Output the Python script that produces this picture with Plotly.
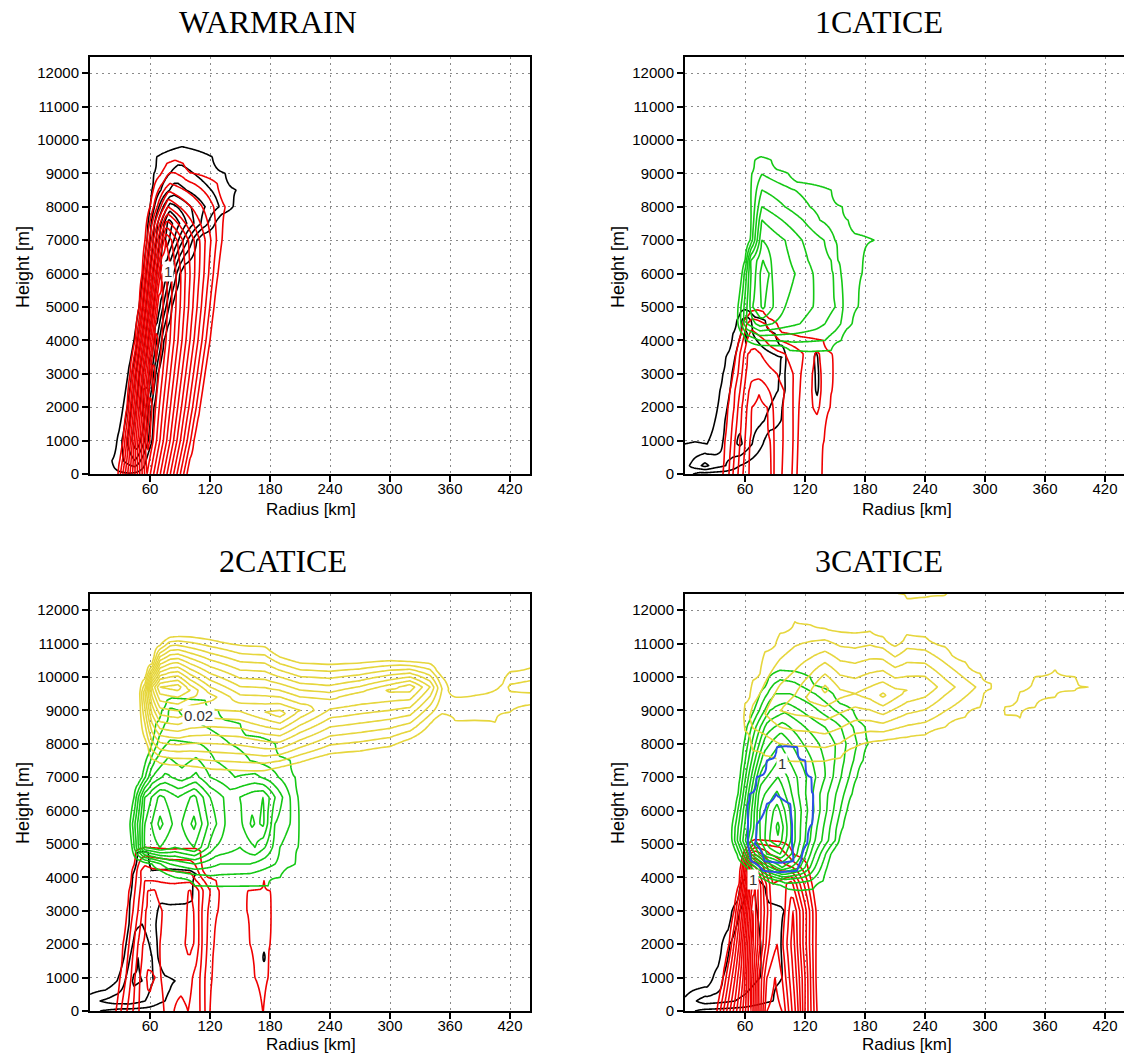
import numpy as np
import plotly.graph_objects as go
from plotly.subplots import make_subplots

# ---------------------------------------------------------------
# Data.
# Fields are given as knots (radius km, value) on rows of fixed height (m),
# or knots (height m, value) on columns of fixed radius (km).
# Values are in multiples of each field's contour interval.
# ---------------------------------------------------------------
PANEL_TITLES = ["WARMRAIN", "1CATICE", "2CATICE", "3CATICE"]
X_TICKS = [60, 120, 180, 240, 300, 360, 420]
Y_TICKS = list(range(0, 12001, 1000))
Y_TICK_TEXT = [str(v) for v in Y_TICKS]
X_TICK_TEXT = [str(v) for v in X_TICKS]

CI_CLOUD = 0.1
CI_RAIN = 0.2
CI_SNOW = 0.02
CI_GRAUPEL = 0.02
CI_ICE = 1.0

# ---------------- WARMRAIN ----------------
WR_CLOUD_Z = [0, 400, 1000, 2000, 3000, 4000, 5000, 6000, 7000, 7500, 8000, 8500, 9000, 9500, 10300]
WR_CLOUD_ROWS = [
    [(15, 0), (22, 0.8), (40, 0.9), (55, 0.5), (60, 0)],
    [(17, 0), (22, 1), (45, 3), (56, 1), (60, 0)],
    [(22, 0), (27, 1), (47, 5), (62, 1), (66, 0)],
    [(29, 0), (33, 1), (52, 5.5), (64, 1), (68, 0)],
    [(34, 0), (38, 1), (57, 6), (68, 1), (72, 0)],
    [(40, 0), (44, 1), (62, 6), (74, 1), (78, 0)],
    [(45, 0), (49, 1), (67, 6), (82, 1), (86, 0)],
    [(49, 0), (53, 1), (72, 6.5), (90, 1), (95, 0)],
    [(53, 0), (57, 1), (77, 7.5), (107, 1), (113, 0)],
    [(55, 0), (58, 1), (79, 7.5), (125, 1), (132, 0)],
    [(57, 0), (60, 1), (80, 5.5), (143, 1), (150, 0)],
    [(58, 0), (62, 1), (84, 3.5), (146, 1), (153, 0)],
    [(60, 0), (64, 1), (88, 2.5), (135, 1), (142, 0)],
    [(62, 0), (67, 1), (92, 1.6), (122, 1), (130, 0)],
    [],
]
WR_RAIN_Z = [0, 1000, 2000, 3000, 4000, 5000, 6000, 7000, 8000, 8700, 9300, 9700]
WR_RAIN_ROWS = [
    [(24, 0), (28, 1), (57, 13), (97, 1), (100, 0)],
    [(30, 0), (33, 1), (58, 14.5), (104, 1), (108, 0)],
    [(34, 0), (37, 1), (60, 14.5), (110, 1), (114, 0)],
    [(37, 0), (40, 1), (63, 14.5), (115, 1), (119, 0)],
    [(42, 0), (45, 1), (66, 14.5), (120, 1), (124, 0)],
    [(46, 0), (49, 1), (69, 14), (124, 1), (128, 0)],
    [(49, 0), (52, 1), (72, 13), (128, 1), (133, 0)],
    [(52, 0), (55, 1), (76, 11), (132, 1), (137, 0)],
    [(55, 0), (60, 1), (78, 6), (135, 1), (142, 0)],
    [(60, 0), (65, 1), (80, 3), (127, 1), (134, 0)],
    [(70, 0), (77, 1), (85, 1.3), (93, 1), (100, 0)],
    [],
]

# ---------------- 1CATICE ----------------
C1_CLOUD_Z = [0, 250, 900, 1600, 2500, 3000, 3500, 4200, 4600, 4900, 5200]
C1_CLOUD_ROWS = [
    [(0, 2), (8, 1), (15, 0.6), (40, 0.5), (60, 0)],
    [(0, 1.6), (10, 2.5), (20, 3.3), (30, 2.5), (45, 1.8), (55, 1), (65, 0.6), (80, 0)],
    [(0, 1), (10, 1.1), (22, 1), (30, 1.5), (45, 2.5), (55, 3.2), (65, 2.2), (78, 1), (85, 0)],
    [(20, 0), (30, 1), (40, 2), (50, 3), (60, 2.5), (75, 2.2), (90, 1.5), (96, 1), (100, 0)],
    [(28, 0), (35, 1), (45, 2), (55, 3), (62, 2.8), (80, 2.5), (93, 2), (100, 1), (104, 0),
     (124, 0), (132, 1.2), (139, 0)],
    [(31, 0), (38, 1), (47, 2), (56, 3), (63, 2.8), (82, 2.4), (95, 2), (100, 1), (104, 0),
     (124, 0), (132, 1.3), (139, 0)],
    [(36, 0), (41, 1), (50, 2), (57, 3), (64, 2.5), (85, 2.2), (97, 2), (101, 1), (106, 0),
     (124, 0), (131, 1.3), (138, 0)],
    [(44, 0), (48, 1), (56, 2), (61, 3.2), (68, 2), (80, 1.5), (90, 1), (95, 0)],
    [(48, 0), (52, 1), (58, 2.2), (63, 2.4), (70, 1.5), (80, 1), (85, 0)],
    [(52, 0), (56, 0.9), (60, 1.1), (64, 0.9), (70, 0)],
    [],
]
C1_RAIN_Z = [0, 1000, 2000, 2500, 3000, 3600, 4000, 4500, 4900, 5200]
C1_RAIN_ROWS = [
    [(34, 0), (38, 1), (44, 2), (48, 3), (53, 4), (58, 5), (64, 6), (74, 6.4), (86, 6), (89, 5),
     (97, 4), (107, 3), (112, 2), (122, 1.5), (137, 1), (141, 0)],
    [(36, 0), (40, 1), (46, 2), (50, 3), (55, 4), (60, 5), (65, 6), (74, 6.5), (85, 6), (89, 5),
     (98, 4), (108, 3), (113, 2), (124, 1.6), (139, 1), (143, 0)],
    [(39, 0), (43, 1), (49, 2), (53, 3), (57, 4), (62, 5), (67, 6), (74, 6.3), (82, 6), (88, 5),
     (98, 4), (108, 3), (114, 2), (122, 1.7), (132, 2.2), (140, 1.5), (145, 1), (149, 0)],
    [(41, 0), (45, 1), (50, 2), (55, 3), (59, 4), (64, 5), (74, 5.9), (84, 5), (90, 4.5), (99, 4),
     (108, 3), (115, 2), (123, 1.7), (132, 2.4), (140, 1.6), (147, 1), (151, 0)],
    [(44, 0), (48, 1), (53, 2), (57, 3), (61, 4), (66, 4.8), (78, 4.5), (92, 4), (100, 3.5),
     (108, 3), (116, 2), (124, 1.7), (132, 2.4), (140, 1.6), (148, 1), (152, 0)],
    [(47, 0), (51, 1), (55, 2), (59, 3), (63, 4), (70, 4.3), (85, 3.5), (100, 3), (110, 2.5),
     (118, 2), (126, 1.6), (132, 2.2), (140, 1.5), (147, 1), (151, 0)],
    [(50, 0), (54, 1), (58, 2), (62, 3), (66, 3.7), (80, 3), (95, 2), (115, 1.3), (138, 1), (143, 0)],
    [(55, 0), (58, 1), (62, 2), (67, 2.6), (80, 2), (92, 1), (97, 0)],
    [(62, 0), (66, 0.9), (72, 1.05), (78, 0.9), (84, 0)],
    [],
]
C1_SNOW_Z = [3500, 3700, 4000, 4500, 5000, 6000, 6400, 7000, 7600, 8000, 8500, 9000, 9400, 9700]
C1_SNOW_ROWS = [
    [],
    [(95, 0), (105, 1), (125, 1.2), (146, 1), (152, 0)],
    [(58, 0), (62, 1), (75, 2), (110, 2.2), (140, 2), (156, 1), (162, 0)],
    [(50, 0), (53, 1), (62, 4), (75, 5.5), (100, 4.5), (130, 3.5), (150, 2.5), (167, 1), (173, 0)],
    [(50, 0), (53, 1), (68, 6), (78, 7.2), (88, 6), (100, 5), (128, 4), (150, 3), (158, 2),
     (173, 1), (180, 0)],
    [(54, 0), (57, 1), (66, 5), (78, 7.6), (84, 7), (87, 6), (110, 5), (128, 4), (148, 3),
     (156, 2), (177, 1), (184, 0)],
    [(56, 0), (60, 1), (66, 5), (78, 7), (86, 6), (105, 5), (123, 4), (146, 3), (153, 2),
     (178, 1), (185, 0)],
    [(61, 0), (65, 1), (77, 6), (100, 5), (117, 4), (139, 3), (150, 2), (189, 1), (194, 0)],
    [(62, 0), (66, 1), (77, 5), (97, 4), (118, 3), (135, 2), (163, 1), (170, 0)],
    [(62, 0), (66, 1), (77, 4), (100, 3), (125, 2), (157, 1), (165, 0)],
    [(62, 0), (66, 1), (77, 3), (110, 2), (146, 1), (153, 0)],
    [(63, 0), (67, 1), (77, 1.95), (103, 1), (112, 0)],
    [(66, 0), (70, 1), (76, 1.5), (86, 1), (92, 0)],
    [],
]

# ---------------- 2CATICE ----------------
C2_CLOUD_Z = [0, 300, 900, 1600, 2600, 3300, 4100, 4750, 5000]
C2_CLOUD_ROWS = [
    [(0, 1.2), (10, 1), (30, 0.6), (60, 0.5), (80, 0)],
    [(0, 1.5), (10, 2), (25, 2.5), (40, 2.6), (55, 2.0), (70, 1.2), (80, 0.8), (88, 0)],
    [(15, 0), (27, 1), (35, 2), (44, 3.2), (52, 3), (60, 2.2), (75, 1.3), (85, 1), (92, 0)],
    [(28, 0), (34, 1), (40, 2), (48, 3), (56, 2.5), (62, 2), (68, 1), (75, 0),
     (168, 0), (174, 1.2), (180, 0)],
    [(33, 0), (39, 1), (45, 1.8), (52, 2), (60, 1.6), (66, 1), (72, 0)],
    [(36, 0), (40, 1), (46, 1.8), (54, 2), (62, 1.5), (70, 1.1), (80, 1.2), (95, 1.15), (102, 1), (106, 0)],
    [(38, 0), (43, 1), (48, 1.6), (55, 1.5), (62, 1.2), (80, 1.3), (100, 1.2), (106, 1), (110, 0)],
    [(44, 0), (48, 1), (52, 1.1), (58, 1), (62, 0)],
    [],
]
C2_RAIN_Z = [0, 1000, 2000, 3000, 3600, 3900, 4200, 4800, 5100]
C2_RAIN_ROWS = [
    [(22, 0), (26, 1), (31, 2), (37, 3), (43, 4), (49, 5), (60, 5.8), (74, 5), (84, 4), (91, 3.6),
     (98, 4), (104, 3.5), (110, 3), (115, 2), (120, 1), (124, 0), (166, 0), (173, 1.05), (180, 0)],
    [(26, 0), (30, 1), (36, 2), (41, 3), (45, 4), (50, 5), (58, 6.2), (65, 6), (71, 5), (85, 4.4),
     (98, 4.6), (110, 3), (115, 2), (122, 1), (126, 0), (158, 0), (165, 1), (172, 1.5), (178, 1), (182, 0)],
    [(30, 0), (33, 1), (39, 2), (44, 3), (48, 4), (53, 5), (62, 5.6), (70, 5), (80, 4.6), (92, 4.8),
     (100, 5.3), (106, 4.8), (112, 3), (117, 2), (124, 1), (128, 0), (153, 0), (160, 1), (170, 1.6),
     (180, 1), (184, 0)],
    [(33, 0), (37, 1), (43, 2), (48, 3), (52, 4), (56, 5), (64, 5.6), (72, 5), (82, 4.6), (95, 4.8),
     (100, 5.3), (106, 4.8), (112, 3), (118, 2), (128, 1), (132, 0), (151, 0), (157, 1), (170, 1.6),
     (181, 1), (185, 0)],
    [(36, 0), (39, 1), (45, 2), (50, 3), (54, 4), (58, 5), (64, 5.1), (70, 4.6), (85, 4.5), (100, 5.05),
     (106, 4.6), (113, 3), (120, 2), (129, 1), (133, 0), (152, 0), (158, 1), (166, 1.1), (173, 1.2),
     (180, 1), (184, 0)],
    [(37, 0), (41, 1), (46, 2), (51, 3), (55, 4), (62, 4), (80, 3.8), (100, 3.8), (110, 2.5), (118, 1.5),
     (126, 1), (130, 0), (170, 0), (174, 1.02), (178, 0)],
    [(38, 0), (42, 1), (47, 2), (51, 3), (55, 3.5), (62, 3.2), (80, 3), (100, 2.8), (108, 2), (113, 1), (118, 0)],
    [(44, 0), (46, 1), (55, 1.5), (80, 1.2), (105, 1.3), (110, 1), (113, 0)],
    [],
]
C2_SNOW_Z = [3550, 3750, 4000, 4400, 4900, 5600, 6400, 7000, 7500, 8000, 8600, 9000, 9300, 9550]
C2_SNOW_ROWS = [
    [],
    [(95, 0), (105, 1), (130, 1.1), (160, 1.05), (178, 1), (185, 0)],
    [(70, 0), (85, 1), (120, 1.8), (160, 1.6), (190, 1), (198, 0)],
    [(50, 0), (62, 1), (80, 3), (105, 4), (130, 3), (160, 3), (185, 2), (205, 1), (210, 0)],
    [(38, 0), (42, 1), (55, 7), (70, 8), (85, 7), (104, 8), (125, 5), (150, 4), (165, 5), (175, 4),
     (190, 2), (208, 1), (214, 0)],
    [(36, 0), (40, 1), (55, 7), (70, 9.3), (87, 7.5), (104, 9.3), (118, 7), (135, 5), (148, 4.5),
     (162, 6.2), (167, 5.8), (173, 6.2), (185, 3), (200, 2), (209, 1), (215, 0)],
    [(40, 0), (44, 1), (55, 6), (70, 8.3), (88, 7), (104, 8.3), (120, 6), (140, 4.5), (162, 5.6),
     (173, 6.0), (185, 4), (200, 2), (208, 1), (214, 0)],
    [(48, 0), (52, 1), (62, 4), (75, 5.3), (92, 4.5), (106, 5.3), (120, 4), (145, 3), (165, 3.3),
     (180, 2.5), (197, 1.5), (205, 1), (210, 0)],
    [(52, 0), (56, 1), (65, 3), (78, 4.2), (92, 3.6), (106, 4.2), (125, 3), (160, 2), (185, 1.5),
     (200, 1), (205, 0)],
    [(58, 0), (62, 1), (70, 2.5), (80, 3.2), (110, 3), (140, 2), (170, 1.5), (185, 1), (190, 0)],
    [(62, 0), (66, 1), (75, 2), (85, 2.2), (110, 2), (150, 1), (156, 0)],
    [(68, 0), (72, 1), (80, 2.2), (110, 1.5), (128, 1), (135, 0)],
    [(74, 0), (77, 1), (82, 1.4), (100, 1.15), (115, 1), (120, 0)],
    [],
]
C2_GRAUPEL_R = [48, 55, 62, 70, 80, 88, 100, 120, 150, 175, 190, 210, 240, 270, 300, 320, 340,
                352, 365, 385, 405, 420, 440]
C2_GRAUPEL_COLS = [
    [],
    [(7900, 0), (8150, 1), (9500, 4), (9950, 1), (10150, 0)],
    [(7400, 0), (7550, 1), (9700, 9), (10400, 1), (10600, 0)],
    [(7250, 0), (7420, 1), (9700, 12), (10950, 1), (11150, 0)],
    [(7200, 0), (7370, 1), (9700, 12.3), (11190, 1), (11400, 0)],
    [(7180, 0), (7360, 1), (9700, 12.5), (11210, 1), (11400, 0)],
    [(7150, 0), (7330, 1), (9600, 11), (11200, 1), (11380, 0)],
    [(7050, 0), (7250, 1), (9400, 9.5), (11120, 1), (11300, 0)],
    [(7000, 0), (7200, 1), (9100, 8.5), (10950, 1), (11100, 0)],
    [(7050, 0), (7200, 1), (8950, 9), (10900, 1), (11050, 0)],
    [(7100, 0), (7300, 1), (8900, 9.5), (10600, 1), (10800, 0)],
    [(7250, 0), (7450, 1), (9000, 8), (10420, 1), (10600, 0)],
    [(7500, 0), (7700, 1), (9200, 6.6), (10380, 1), (10550, 0)],
    [(7600, 0), (7780, 1), (9400, 6.8), (10420, 1), (10600, 0)],
    [(7700, 0), (7920, 1), (9600, 7.2), (10490, 1), (10650, 0)],
    [(7900, 0), (8150, 1), (9700, 7.6), (10460, 1), (10620, 0)],
    [(8200, 0), (8600, 1), (9700, 5), (10400, 1), (10600, 0)],
    [(8700, 0), (8900, 1), (9650, 2), (10000, 1), (10200, 0)],
    [(8500, 0), (8700, 1), (9050, 1.5), (9400, 1), (9600, 0)],
    [(8500, 0), (8700, 1), (9050, 1.5), (9450, 1), (9650, 0)],
    [(8400, 0), (8650, 1), (9300, 1.7), (9600, 1), (9800, 0)],
    [(8800, 0), (8950, 1), (9700, 2.2), (10150, 1), (10350, 0)],
    [(8950, 0), (9170, 1), (9700, 2.5), (10270, 1), (10450, 0)],
]

# ---------------- 3CATICE ----------------
C3_CLOUD_Z = [0, 300, 1000, 2000, 3000, 3700, 4300]
C3_CLOUD_ROWS = [
    [(0, 1.2), (10, 1), (20, 0.7), (60, 0.5), (90, 0)],
    [(0, 1.2), (8, 1.8), (20, 2.5), (40, 2.2), (60, 1.8), (80, 1.2), (88, 1), (92, 0)],
    [(22, 0), (28, 1), (38, 2), (48, 2.8), (60, 2.5), (75, 2), (92, 1.5), (97, 1), (100, 0)],
    [(33, 0), (37, 1), (45, 2), (55, 2.8), (65, 2.5), (80, 1.8), (92, 1.2), (96, 1), (100, 0)],
    [(43, 0), (47, 1), (55, 2), (62, 2.6), (72, 2), (85, 1.5), (96, 1.2), (99, 1), (103, 0)],
    [(52, 0), (55, 1), (62, 2), (68, 2.2), (74, 1.5), (80, 1), (84, 0)],
    [],
]
C3_RAIN_Z = [0, 1000, 2000, 3000, 3800, 4400, 4900, 5250]
C3_RAIN_ROWS = [
    [(28, 0), (32, 1), (45, 5), (55, 8), (66, 12), (74, 8), (82, 4), (90, 3.5), (97, 4), (112, 8.5),
     (120, 5), (132, 1), (136, 0)],
    [(34, 0), (38, 1), (50, 5), (58, 8), (66, 12.5), (74, 8), (82, 5), (90, 4), (97, 5), (110, 8.5),
     (120, 5), (131, 1), (135, 0)],
    [(40, 0), (44, 1), (54, 5), (61, 9), (67, 12.5), (75, 9), (84, 6), (92, 5), (98, 6), (108, 8.5),
     (118, 5), (131, 1), (135, 0)],
    [(45, 0), (49, 1), (57, 5), (63, 9), (68, 12), (76, 9), (86, 6), (94, 5), (100, 6), (108, 8),
     (118, 5), (131, 1), (135, 0)],
    [(50, 0), (54, 1), (60, 5), (65, 9), (70, 11), (78, 8), (88, 5), (97, 5.5), (106, 6.5), (115, 4),
     (127, 1), (131, 0)],
    [(52, 0), (56, 1), (62, 5), (67, 8), (73, 7), (85, 4), (100, 3), (112, 2), (122, 1), (126, 0)],
    [(58, 0), (62, 1), (70, 3), (80, 2.5), (95, 2), (105, 1), (110, 0)],
    [],
]
C3_SNOW_Z = [3400, 3650, 3900, 4300, 4700, 5100, 5500, 6000, 6500, 7000, 7500, 8000, 8500, 9000,
             9500, 10000, 10450]
C3_SNOW_ROWS = [
    [],
    [(95, 0), (103, 1), (115, 1.2), (128, 1), (135, 0)],
    [(75, 0), (82, 1), (100, 2.5), (125, 2), (138, 1), (143, 0)],
    [(56, 0), (62, 1), (80, 5), (97, 8), (115, 6), (130, 3), (142, 1), (147, 0)],
    [(48, 0), (52, 1), (66, 6), (82, 10), (95, 11), (112, 8), (130, 4), (146, 1), (151, 0)],
    [(44, 0), (47, 1), (66, 8), (85, 12), (93, 12.8), (110, 9), (130, 5), (150, 2), (154, 1), (158, 0)],
    [(43, 0), (47, 1), (75, 10), (93, 13.3), (110, 9), (132, 5), (158, 1), (163, 0)],
    [(45, 0), (50, 1), (75, 10), (92, 12.5), (110, 9), (135, 5), (162, 1), (167, 0)],
    [(49, 0), (53, 1), (75, 9.5), (92, 11.2), (110, 8.5), (135, 5), (167, 1), (172, 0)],
    [(51, 0), (55, 1), (76, 8.5), (93, 10), (112, 8), (140, 5), (172, 1), (177, 0)],
    [(53, 0), (57, 1), (78, 7.5), (93, 9), (115, 7), (145, 4.5), (178, 1), (183, 0)],
    [(55, 0), (59, 1), (80, 6.5), (95, 8), (118, 6), (150, 4), (183, 1), (188, 0)],
    [(58, 0), (62, 1), (82, 5.5), (97, 6.5), (120, 5), (150, 3.5), (180, 1), (186, 0)],
    [(64, 0), (69, 1), (85, 4), (100, 4.8), (125, 3.5), (150, 2), (168, 1), (174, 0)],
    [(70, 0), (75, 1), (90, 3), (105, 3), (130, 2), (148, 1), (155, 0)],
    [(80, 0), (84, 1), (95, 1.8), (110, 1.6), (125, 1), (130, 0)],
    [],
]
C3_ICE_Z = [4000, 4200, 4500, 5000, 5600, 6200, 6500, 7000, 7500, 7900, 8200]
C3_ICE_ROWS = [
    [],
    [(70, 0), (78, 1), (93, 1.3), (112, 1), (118, 0)],
    [(60, 0), (66, 1), (80, 2.05), (95, 2.2), (108, 2.05), (116, 1), (122, 0)],
    [(58, 0), (63, 1), (70, 2), (90, 2.6), (107, 2), (122, 1), (127, 0)],
    [(58, 0), (63, 1), (72, 2), (92, 2.6), (107, 2), (127, 1), (132, 0)],
    [(58, 0), (63, 1), (82, 2), (95, 2.2), (105, 2), (128, 1), (133, 0)],
    [(60, 0), (65, 1), (91, 2.0), (128, 1), (133, 0)],
    [(68, 0), (72, 1), (93, 1.6), (126, 1), (131, 0)],
    [(78, 0), (82, 1), (95, 1.4), (120, 1), (126, 0)],
    [(88, 0), (92, 1), (100, 1.1), (112, 1), (118, 0)],
    [],
]
C3_GRAUPEL_R = [55, 60, 68, 80, 95, 110, 125, 140, 155, 170, 185, 198, 210, 222, 240, 260, 280, 295,
                306, 313, 320, 335, 350, 370, 390, 403, 412]
C3_GRAUPEL_COLS = [
    [],
    [(8200, 0), (8400, 1), (8800, 1.3), (9200, 1), (9400, 0)],
    [(7600, 0), (7800, 1), (8800, 2.5), (9900, 1), (10100, 0)],
    [(7400, 0), (7650, 1), (8900, 3), (10750, 1), (10950, 0)],
    [(7300, 0), (7500, 1), (9000, 4), (11300, 1), (11500, 0)],
    [(7250, 0), (7470, 1), (9100, 4.5), (11650, 1), (11800, 0)],
    [(7250, 0), (7470, 1), (9400, 5.3), (11570, 1), (11750, 0)],
    [(7250, 0), (7480, 1), (9650, 6.3), (11450, 1), (11650, 0)],
    [(7350, 0), (7570, 1), (9500, 5.3), (11350, 1), (11550, 0)],
    [(7700, 0), (7900, 1), (9500, 5), (11320, 1), (11500, 0)],
    [(7850, 0), (8050, 1), (9500, 5.5), (11370, 1), (11550, 0)],
    [(7900, 0), (8100, 1), (9450, 6.2), (11200, 1), (11400, 0)],
    [(8000, 0), (8150, 1), (9500, 5.5), (10920, 1), (11100, 0), (12450, 0), (12500, 0.9)],
    [(8050, 0), (8200, 1), (9600, 5), (11270, 1), (11450, 0), (12200, 0), (12350, 1), (12500, 1.3)],
    [(8100, 0), (8270, 1), (9700, 4.8), (11200, 1), (11400, 0), (12200, 0), (12380, 1), (12500, 1.3)],
    [(8300, 0), (8500, 1), (9700, 3.5), (10900, 1), (11100, 0), (12300, 0), (12450, 1), (12500, 1.1)],
    [(8600, 0), (8800, 1), (9700, 2.5), (10450, 1), (10650, 0)],
    [(8900, 0), (9100, 1), (9700, 1.8), (10100, 1), (10300, 0)],
    [(9500, 0), (9650, 1), (9720, 1.05), (9800, 1), (9950, 0)],
    [],
    [(8700, 0), (8870, 1), (9000, 1.1), (9100, 1), (9300, 0)],
    [(8600, 0), (8770, 1), (9200, 1.3), (9550, 1), (9750, 0)],
    [(8900, 0), (9100, 1), (9600, 1.5), (10000, 1), (10200, 0)],
    [(9200, 0), (9400, 1), (9800, 1.5), (10220, 1), (10400, 0)],
    [(9500, 0), (9600, 1), (9800, 1.3), (10000, 1), (10150, 0)],
    [(9600, 0), (9700, 1.02), (9800, 0)],
    [],
]

# ---------------------------------------------------------------
R_FINE = np.arange(0.0, 440.5, 1.0)
Z_FINE = np.arange(0.0, 12525.0, 25.0)


def grid_from_rows(heights, rows):
    out = []
    for row in rows:
        if row:
            rr = [p[0] for p in row]
            vv = [p[1] for p in row]
            out.append(np.interp(R_FINE, rr, vv, left=0.0, right=0.0))
        else:
            out.append(np.zeros_like(R_FINE))
    return R_FINE, np.array(heights, float), np.array(out)


def grid_from_cols(radii, cols):
    out = []
    for col in cols:
        if col:
            hh = [p[0] for p in col]
            vv = [p[1] for p in col]
            out.append(np.interp(Z_FINE, hh, vv, left=0.0, right=0.0))
        else:
            out.append(np.zeros_like(Z_FINE))
    return np.array(radii, float), Z_FINE, np.array(out).T


BLACK = "#000000"
RED = "#f00000"
GREEN = "#14c814"
YELLOW = "#e6d63c"
BLUE = "#2a50e6"

fig = make_subplots(rows=2, cols=2)


def add_field(grid, ci, color, row, col, width=1.6, nmax=30):
    x, y, z = grid
    fig.add_trace(
        go.Contour(
            x=x, y=y, z=z * ci,
            autocontour=False,
            contours=dict(coloring="lines", start=ci, end=ci * nmax, size=ci, showlabels=False),
            colorscale=[[0, color], [1, color]],
            showscale=False,
            line=dict(width=width, smoothing=0.9),
            hoverinfo="skip",
        ),
        row=row, col=col,
    )


# WARMRAIN
add_field(grid_from_rows(WR_CLOUD_Z, WR_CLOUD_ROWS), CI_CLOUD, BLACK, 1, 1)
add_field(grid_from_rows(WR_RAIN_Z, WR_RAIN_ROWS), CI_RAIN, RED, 1, 1)
# 1CATICE
add_field(grid_from_rows(C1_CLOUD_Z, C1_CLOUD_ROWS), CI_CLOUD, BLACK, 1, 2)
add_field(grid_from_rows(C1_RAIN_Z, C1_RAIN_ROWS), CI_RAIN, RED, 1, 2)
add_field(grid_from_rows(C1_SNOW_Z, C1_SNOW_ROWS), CI_SNOW, GREEN, 1, 2)
# 2CATICE
add_field(grid_from_rows(C2_CLOUD_Z, C2_CLOUD_ROWS), CI_CLOUD, BLACK, 2, 1)
add_field(grid_from_rows(C2_RAIN_Z, C2_RAIN_ROWS), CI_RAIN, RED, 2, 1)
add_field(grid_from_rows(C2_SNOW_Z, C2_SNOW_ROWS), CI_SNOW, GREEN, 2, 1)
add_field(grid_from_cols(C2_GRAUPEL_R, C2_GRAUPEL_COLS), CI_GRAUPEL, YELLOW, 2, 1)
# 3CATICE
add_field(grid_from_rows(C3_CLOUD_Z, C3_CLOUD_ROWS), CI_CLOUD, BLACK, 2, 2)
add_field(grid_from_rows(C3_RAIN_Z, C3_RAIN_ROWS), CI_RAIN, RED, 2, 2)
add_field(grid_from_rows(C3_SNOW_Z, C3_SNOW_ROWS), CI_SNOW, GREEN, 2, 2)
add_field(grid_from_cols(C3_GRAUPEL_R, C3_GRAUPEL_COLS), CI_GRAUPEL, YELLOW, 2, 2)
add_field(grid_from_rows(C3_ICE_Z, C3_ICE_ROWS), CI_ICE, BLUE, 2, 2, width=2.0, nmax=2)

W, H = 1124, 1055
TICK_FONT = dict(family="Liberation Sans, Arial, sans-serif", size=15, color="black")
axis_common = dict(
    showline=True, linecolor="black", linewidth=2, mirror=True,
    ticks="outside", ticklen=6, tickwidth=1.5, tickcolor="black",
    showgrid=True, gridcolor="#8a8a8a", gridwidth=1, griddash="2px,4px",
    zeroline=False, tickfont=TICK_FONT, tickmode="array",
)
fig.update_xaxes(**axis_common, tickvals=X_TICKS, ticktext=X_TICK_TEXT, ticklabelstandoff=-6)
fig.update_yaxes(**axis_common, tickvals=Y_TICKS, ticktext=Y_TICK_TEXT, range=[0, 12500])

left_dom = [90 / W, 530 / W]
right_dom = [685 / W, 1.0]
top_dom = [1 - 474 / H, 1 - 56.5 / H]
bot_dom = [1 - 1011 / H, 1 - 593.5 / H]
fig.update_layout(
    xaxis=dict(domain=left_dom, range=[0, 440]),
    xaxis2=dict(domain=right_dom, range=[0, 439]),
    xaxis3=dict(domain=left_dom, range=[0, 440]),
    xaxis4=dict(domain=right_dom, range=[0, 439]),
    yaxis=dict(domain=top_dom),
    yaxis2=dict(domain=top_dom),
    yaxis3=dict(domain=bot_dom),
    yaxis4=dict(domain=bot_dom),
)

annotations = []
TITLE_FONT = dict(family="Liberation Serif, Times New Roman, serif", size=32, color="black")
LABEL_FONT = dict(family="Liberation Sans, Arial, sans-serif", size=18, color="black")
XLABEL_FONT = dict(family="Liberation Sans, Arial, sans-serif", size=17, color="black")
title_pos = [(268, 22), (879, 22), (283, 561), (879, 561)]
for txt, (px, py) in zip(PANEL_TITLES, title_pos):
    annotations.append(dict(text=txt, x=px / W, y=1 - py / H, xref="paper", yref="paper",
                            showarrow=False, xanchor="center", yanchor="middle", font=TITLE_FONT))
# x-axis titles: bottom edge of the text box (top panels mirror the bottom spacing)
for px, py in [(311, 520), (907, 520), (311, 1055), (907, 1055)]:
    annotations.append(dict(text="Radius [km]", x=px / W, y=1 - py / H, xref="paper", yref="paper",
                            showarrow=False, xanchor="center", yanchor="bottom", font=XLABEL_FONT,
                            borderpad=0))
for px, py in [(23, 267), (618, 267), (23, 803), (618, 803)]:
    annotations.append(dict(text="Height [m]", x=px / W, y=1 - py / H, xref="paper", yref="paper",
                            showarrow=False, xanchor="center", yanchor="middle", textangle=-90,
                            font=LABEL_FONT))

CLABEL_FONT = dict(family="Liberation Sans, Arial, sans-serif", size=15, color="#333333")
contour_labels = [
    ("1", "x", "y", 78, 6050),
    ("0.02", "x3", "y3", 108, 8850),
    ("1", "x4", "y4", 97, 7400),
    ("1", "x4", "y4", 68, 3930),
]
for txt, xr, yr, xv, yv in contour_labels:
    annotations.append(dict(text=txt, x=xv, y=yv, xref=xr, yref=yr, showarrow=False,
                            bgcolor="white", borderpad=1, font=CLABEL_FONT))

fig.update_layout(
    width=W, height=H,
    margin=dict(l=0, r=0, t=0, b=0, autoexpand=False),
    paper_bgcolor="white", plot_bgcolor="white",
    showlegend=False,
    annotations=annotations,
)

fig.write_html(
    "out.html",
    config={"displayModeBar": False},
    post_script="document.body.style.margin='0';document.body.style.overflow='hidden';",
)
